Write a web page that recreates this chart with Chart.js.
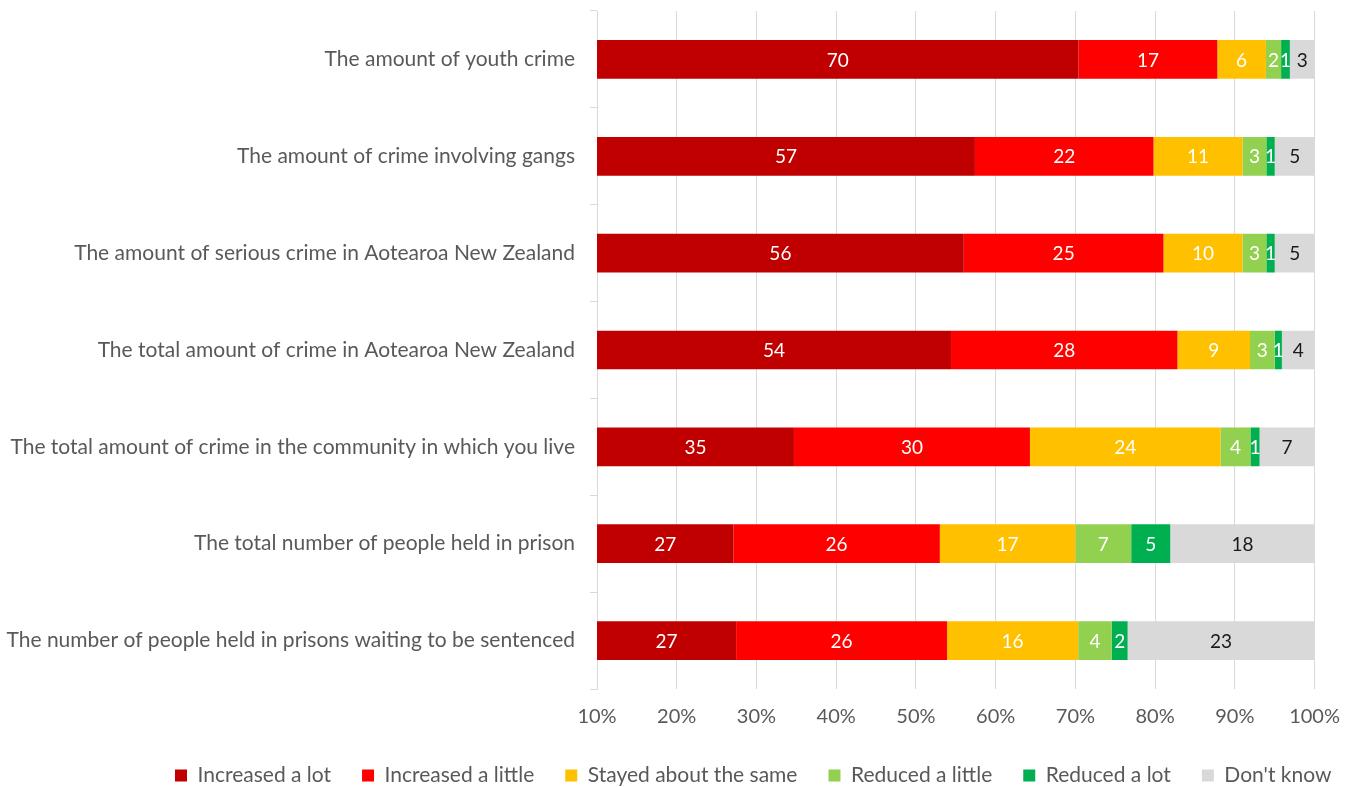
<!DOCTYPE html>
<html>
<head>
<meta charset="utf-8">
<script src="https://cdn.jsdelivr.net/npm/chart.js@4/dist/chart.umd.min.js"></script>
<style>
  html, body { margin: 0; padding: 0; background: #fff; }
  #wrap { width: 1356px; height: 787px; }
</style>
</head>
<body>
<div id="wrap"><canvas id="crimeChart"></canvas></div>
<script>
const questions = [
  'The amount of youth crime',
  'The amount of crime involving gangs',
  'The amount of serious crime in Aotearoa New Zealand',
  'The total amount of crime in Aotearoa New Zealand',
  'The total amount of crime in the community in which you live',
  'The total number of people held in prison',
  'The number of people held in prisons waiting to be sentenced'
];

// percent of respondents per answer, one value per question
const increasedLot    = [70.4, 57.4, 56.0, 54.4, 34.7, 27.1, 27.45];
const increasedLittle = [17.4, 22.4, 25.05, 28.4, 29.6, 25.9, 26.45];
const stayedSame      = [6.1, 11.15, 9.9, 9.1, 23.9, 17.0, 16.45];
const reducedLittle   = [1.9, 3.0, 3.0, 3.1, 3.75, 7.0, 4.2];
const reducedLot      = [1.1, 1.05, 1.05, 0.9, 1.15, 4.9, 2.0];
const dontKnow        = [3.1, 5.0, 5.0, 4.1, 6.9, 18.1, 23.45];

const axisTicks = [10, 20, 30, 40, 50, 60, 70, 80, 90, 100];

const textGrey = '#595959';
const gridGrey = '#d9d9d9';
Chart.defaults.font.family = 'Lato';

function series(label, data, colour, labelColour) {
  return {
    label: label,
    data: data,
    backgroundColor: colour,
    borderWidth: 0,
    clip: 0,
    categoryPercentage: 1,
    barPercentage: 0.4,
    labelColour: labelColour
  };
}

// rounded value in the middle of the visible part of every segment
const segmentLabels = {
  id: 'segmentLabels',
  afterDatasetsDraw(chart) {
    const ctx = chart.ctx;
    const area = chart.chartArea;
    ctx.save();
    ctx.font = '19px Lato';
    ctx.textAlign = 'center';
    ctx.textBaseline = 'middle';
    chart.data.datasets.forEach((ds, di) => {
      chart.getDatasetMeta(di).data.forEach((bar, i) => {
        const left = Math.max(Math.min(bar.x, bar.base), area.left);
        const right = Math.min(Math.max(bar.x, bar.base), area.right);
        ctx.fillStyle = ds.labelColour;
        ctx.fillText(String(Math.round(ds.data[i])), (left + right) / 2, bar.y + 1);
      });
    });
    ctx.restore();
  }
};

// legend starts at x=175 and sits a bit lower
const legendOffset = {
  id: 'legendOffset',
  afterLayout(chart) {
    const lg = chart.legend;
    const pad = lg.options.labels.padding;
    const start = (lg.left + pad + lg.right - lg.lineWidths[0]) / 2;
    const dx = 175 - start;
    lg.left += dx; lg.right += dx;
    lg.top += 9; lg.bottom += 9;
  }
};

new Chart(document.getElementById('crimeChart'), {
  type: 'bar',
  data: {
    labels: questions,
    datasets: [
      series('Increased a lot', increasedLot, '#c00000', '#ffffff'),
      series('Increased a little', increasedLittle, '#ff0000', '#ffffff'),
      series('Stayed about the same', stayedSame, '#ffc000', '#ffffff'),
      series('Reduced a little', reducedLittle, '#92d050', '#ffffff'),
      series('Reduced a lot', reducedLot, '#00b050', '#ffffff'),
      series("Don't know", dontKnow, '#d9d9d9', '#1a1a1a')
    ]
  },
  options: {
    indexAxis: 'y',
    responsive: true,
    maintainAspectRatio: false,
    animation: false,
    layout: { padding: { left: 0, right: 40, top: 11, bottom: 0 } },
    scales: {
      x: {
        stacked: true,
        min: axisTicks[0],
        max: axisTicks[axisTicks.length - 1],
        afterBuildTicks: s => { s.ticks = axisTicks.map(v => ({ value: v })); },
        ticks: { color: textGrey, font: { size: 20 }, padding: 16, callback: v => v + '%' },
        grid: { color: gridGrey, drawTicks: false },
        border: { display: false },
        afterFit: s => { s.height = 36; }
      },
      y: {
        stacked: true,
        ticks: { color: textGrey, font: { size: 21 }, padding: 15 },
        grid: { drawOnChartArea: false, color: gridGrey, tickLength: 7 },
        border: { color: gridGrey },
        afterFit: s => { s.width = 597; s.paddingTop = 0; s.paddingBottom = 0; }
      }
    },
    plugins: {
      legend: {
        position: 'bottom',
        labels: { color: textGrey, font: { size: 21 }, boxWidth: 12, boxHeight: 12, padding: 31 }
      },
      tooltip: { enabled: false }
    }
  },
  plugins: [segmentLabels, legendOffset]
});
</script>
</body>
</html>
